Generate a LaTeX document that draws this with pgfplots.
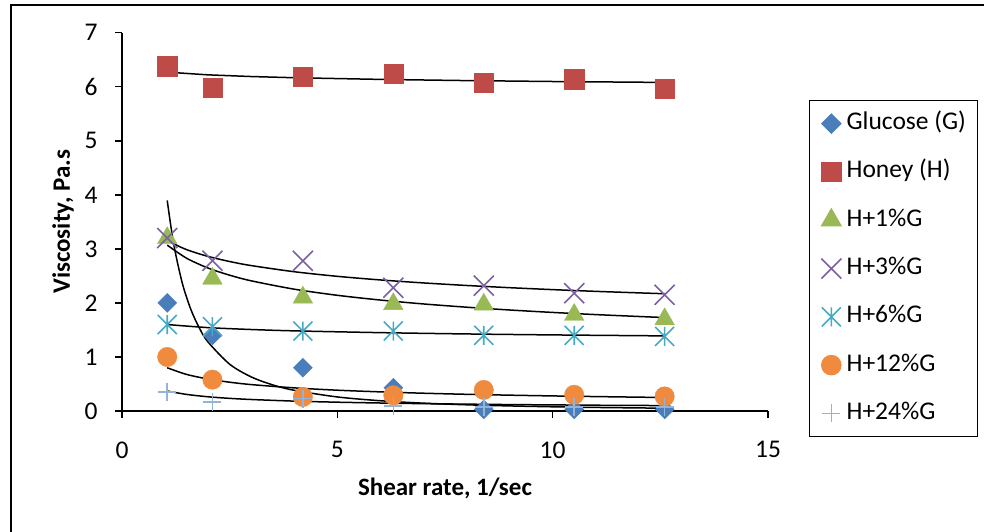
\documentclass[border=0pt]{standalone}
\usepackage{pgfplots}
\pgfplotsset{compat=1.18}
\usepackage{fontspec}
\setmainfont{Carlito}
\definecolor{cG}{HTML}{4A7EBB}
\definecolor{cH}{HTML}{BE4B48}
\definecolor{c1}{HTML}{98B954}
\definecolor{c3}{HTML}{7D60A0}
\definecolor{c6}{HTML}{46AAC5}
\definecolor{c12}{HTML}{F08A3E}
\definecolor{c24}{HTML}{95B3D7}
\pgfdeclareplotmark{xstar}{%
 \pgfpathmoveto{\pgfqpoint{-\pgfplotmarksize}{-\pgfplotmarksize}}%
 \pgfpathlineto{\pgfqpoint{\pgfplotmarksize}{\pgfplotmarksize}}%
 \pgfpathmoveto{\pgfqpoint{-\pgfplotmarksize}{\pgfplotmarksize}}%
 \pgfpathlineto{\pgfqpoint{\pgfplotmarksize}{-\pgfplotmarksize}}%
 \pgfpathmoveto{\pgfqpoint{0pt}{-\pgfplotmarksize}}%
 \pgfpathlineto{\pgfqpoint{0pt}{\pgfplotmarksize}}%
 \pgfusepathqstroke}
\pgfdeclareplotmark{xx}{%
 \pgfpathmoveto{\pgfqpoint{-\pgfplotmarksize}{-\pgfplotmarksize}}%
 \pgfpathlineto{\pgfqpoint{\pgfplotmarksize}{\pgfplotmarksize}}%
 \pgfpathmoveto{\pgfqpoint{-\pgfplotmarksize}{\pgfplotmarksize}}%
 \pgfpathlineto{\pgfqpoint{\pgfplotmarksize}{-\pgfplotmarksize}}%
 \pgfusepathqstroke}
\begin{document}
\begin{tikzpicture}
\useasboundingbox (0pt,0pt) rectangle (984pt,531pt);
\draw[line width=2pt] (11pt,-5pt) -- (11pt,526pt) -- (990pt,526pt);
\begin{axis}[
  at={(122pt,120pt)}, anchor=south west,
  scale only axis, width=646pt, height=378.3pt,
  xmin=0, xmax=15, ymin=0, ymax=7,
  xtick={0,5,10,15}, ytick={0,1,2,3,4,5,6,7},
  axis x line=bottom, axis y line=left,
  axis line style={-, line width=1.5pt},
  tick align=outside, major tick length=7pt,
  tick style={black, line width=1.5pt},
  /pgf/number format/assume math mode=true,
  tick label style={font=\fontsize{25.5}{30}\selectfont},
  xticklabel style={yshift=-20pt},
  yticklabel style={xshift=-14pt},
  xlabel={Shear rate, 1/sec}, ylabel={Viscosity, Pa.s},
  label style={font=\fontsize{25}{30}\selectfont\bfseries},
  x label style={at={(axis description cs:0.5,-0.2035)}, anchor=center},
  y label style={at={(axis description cs:-0.0913,0.5)}, anchor=center},
  clip=false,
  legend style={at={(axis description cs:1.0635,0.822)}, anchor=north west,
    draw=black, line width=1.2pt, inner xsep=11.7pt, inner ysep=11pt,
    font=\fontsize{25.5}{30}\selectfont,
    nodes={inner sep=0pt, text height=18pt, text depth=6pt},
    row sep=24.3pt, column sep=5.3pt},
  legend cell align=left,
  legend image code/.code={\draw[mark repeat=2,mark phase=2] plot coordinates {(0pt,0pt)(11pt,0pt)(22pt,0pt)};},
]
\addplot[only marks, mark=square*, mark size=6.7pt, color=cG, mark options={rotate=45, fill=cG, draw=cG}] coordinates {
(1.05,2.0)(2.1,1.4)(4.2,0.8)(6.3,0.43)(8.4,0.03)(10.5,0.03)(12.6,0.03)};
\addlegendentry{Glucose (G)}
\addplot[only marks, mark=square*, mark size=9.6pt, color=cH, mark options={fill=cH, draw=cH}] coordinates {
(1.05,6.38)(2.1,5.98)(4.2,6.18)(6.3,6.24)(8.4,6.08)(10.5,6.14)(12.6,5.96)};
\addlegendentry{Honey (H)}
\addplot[only marks, mark=triangle*, mark size=11.3pt, color=c1, mark options={fill=c1, draw=c1}] coordinates {
(1.05,3.2)(2.1,2.45)(4.2,2.1)(6.3,1.98)(8.4,1.97)(10.5,1.78)(12.6,1.70)};
\addlegendentry{H+1\%G}
\addplot[only marks, mark=xx, mark size=10pt, color=c3, mark options={line width=1.6pt}] coordinates {
(1.05,3.2)(2.1,2.78)(4.2,2.78)(6.3,2.28)(8.4,2.32)(10.5,2.18)(12.6,2.15)};
\addlegendentry{H+3\%G}
\addplot[only marks, mark=xstar, mark size=9.5pt, color=c6, mark options={line width=1.6pt}] coordinates {
(1.05,1.6)(2.1,1.56)(4.2,1.48)(6.3,1.48)(8.4,1.4)(10.5,1.4)(12.6,1.38)};
\addlegendentry{H+6\%G}
\addplot[only marks, mark=*, mark size=9.7pt, color=c12, mark options={fill=c12, draw=c12}] coordinates {
(1.05,1.0)(2.1,0.58)(4.2,0.26)(6.3,0.29)(8.4,0.39)(10.5,0.30)(12.6,0.27)};
\addlegendentry{H+12\%G}
\addplot[only marks, mark=+, mark size=9pt, color=c24, mark options={line width=1.6pt}] coordinates {
(1.05,0.35)(2.1,0.17)(4.2,0.23)(6.3,0.09)(8.4,0.07)(10.5,0.07)(12.6,0.07)};
\addlegendentry{H+24\%G}
% trend lines
\addplot[black, line width=1.5pt, forget plot] coordinates {
(1.05,6.270)(2,6.220)(3,6.189)(4,6.167)(6,6.136)(8,6.114)(10,6.097)(12.6,6.080)};
\addplot[black, line width=1.5pt, forget plot, smooth] coordinates {
(1.05,3.896)(1.2,3.091)(1.4,2.366)(1.6,1.877)(1.8,1.530)(2,1.275)(2.5,0.866)(3,0.631)(3.5,0.483)(4,0.383)(5,0.260)(6,0.190)(7,0.145)(8,0.115)(9,0.094)(10,0.078)(11,0.066)(12,0.057)(12.6,0.052)};
\addplot[black, line width=1.5pt, forget plot, smooth] coordinates {
(1.05,3.070)(1.5,2.827)(2,2.645)(2.5,2.513)(3,2.409)(4,2.254)(5,2.141)(6,2.053)(7,1.981)(8,1.921)(9,1.869)(10,1.824)(11,1.784)(12,1.749)(12.6,1.729)};
\addplot[black, line width=1.5pt, forget plot, smooth] coordinates {
(1.05,3.150)(1.5,2.986)(2,2.860)(2.5,2.766)(3,2.691)(4,2.577)(5,2.492)(6,2.425)(7,2.370)(8,2.323)(9,2.282)(10,2.246)(11,2.214)(12,2.186)(12.6,2.170)};
\addplot[black, line width=1.5pt, forget plot, smooth] coordinates {
(1.05,1.600)(2,1.543)(3,1.508)(4,1.483)(6,1.450)(8,1.426)(10,1.408)(12.6,1.390)};
\addplot[black, line width=1.5pt, forget plot, smooth] coordinates {
(1.05,0.800)(1.5,0.677)(2,0.592)(2.5,0.533)(3,0.489)(4,0.428)(5,0.385)(6,0.354)(7,0.329)(8,0.309)(9,0.293)(10,0.279)(11,0.267)(12,0.256)(12.6,0.250)};
\addplot[black, line width=1.5pt, forget plot, smooth] coordinates {
(1.05,0.370)(1.5,0.307)(2,0.263)(2.5,0.234)(3,0.213)(4,0.183)(5,0.163)(6,0.148)(7,0.136)(8,0.127)(9,0.119)(10,0.113)(11,0.107)(12,0.103)(12.6,0.100)};
\end{axis}
\end{tikzpicture}
\end{document}
